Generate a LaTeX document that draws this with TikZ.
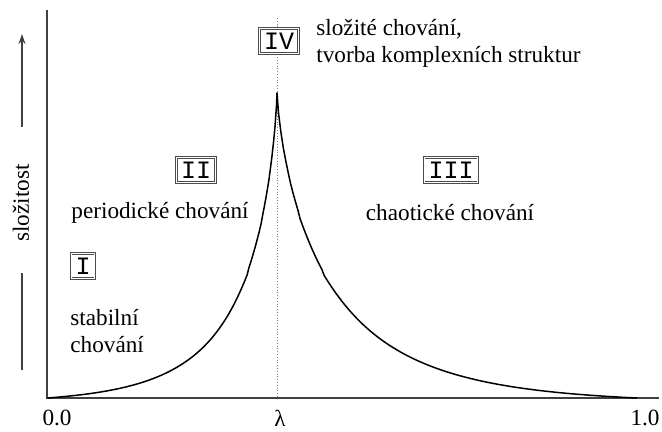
\documentclass[tikz,border=0pt]{standalone}
\usepackage{fontspec}
\setmainfont{Liberation Serif}
\setmonofont{Liberation Mono}
\usetikzlibrary{arrows.meta}

\tikzset{
  phase/.style={draw=black!70, double=white, double distance=0.45pt, line width=0.4pt,
    fill=white, font=\fontsize{12.5}{12.5}\ttfamily, inner xsep=2.2pt, inner ysep=0pt,
    minimum height=12.5pt},
  desc/.style={font=\fontsize{11.6}{13.8}\selectfont, align=left, inner sep=0pt},
  axis/.style={draw=black!75, line width=0.8pt},
  curve/.style={line width=0.75pt, line join=round},
}

\begin{document}
\begin{tikzpicture}[x=0.5pt,y=-0.5pt]
  \useasboundingbox (0,0) rectangle (662,432);
  % axes
  \coordinate (orig) at (47,398);
  \coordinate (ytop) at (47,10);
  \coordinate (xend) at (659,398);
  \coordinate (lam) at (277,398);
  \coordinate (lamtop) at (277,18);
  \coordinate (peak) at (277,93);
  \draw[gray, densely dotted, line width=0.4pt] (lamtop) -- (lam);
  \draw[axis] (ytop) -- (orig) -- (xend);
  % complexity curve
  \draw[curve] plot[domain=1:0.002, samples=150]
      ({277+360*\x},{398-305*(exp(-4*\x^0.75)-exp(-4))/(1-exp(-4))})
    -- (peak)
    -- plot[domain=0.002:1, samples=150]
      ({277-230*\x},{398-305*(exp(-4*\x^0.75)-exp(-4))/(1-exp(-4))});
  % vertical label
  \coordinate (arrfrom) at (22,127);
  \coordinate (arrto) at (22,34);
  \coordinate (barfrom) at (22,273);
  \coordinate (barto) at (22,370);
  \draw[black!75, line width=0.6pt, -{Stealth[length=5pt,width=3.5pt]}] (arrfrom) -- (arrto);
  \draw[black!75, line width=0.6pt] (barfrom) -- (barto);
  \node[desc, rotate=90] (complexity) at (21,203) {složitost};
  % regions
  \node[phase] (boxI) at (83,266) {I};
  \node[phase] (boxII) at (196,170) {II};
  \node[phase] (boxIII) at (451,170) {III};
  \node[phase] (boxIV) at (279,41) {IV};
  \node[desc, anchor=west] (stable) at (70,331) {stabilní\\chování};
  \node[desc] (period) at (160,213) {periodické chování};
  \node[desc] (chaos) at (450,213) {chaotické chování};
  \node[desc, anchor=west] (complex) at (316,43.5) {složité chování,\\tvorba komplexních struktur};
  % ticks
  \node[desc] (tzero) at (57,418) {0.0};
  \node[desc] (tlam) at (280,418) {λ};
  \node[desc] (tone) at (645,418) {1.0};
\end{tikzpicture}
\end{document}
